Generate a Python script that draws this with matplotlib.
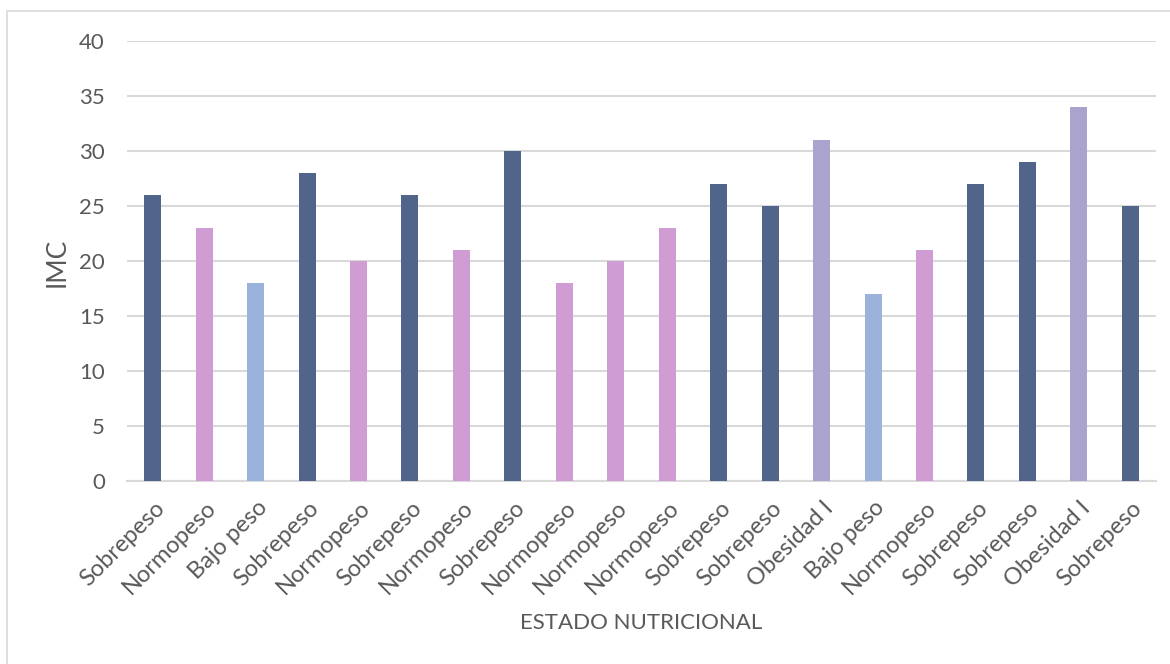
import matplotlib
matplotlib.use("Agg")
import matplotlib.pyplot as plt
from matplotlib.patches import Rectangle
from matplotlib.transforms import ScaledTranslation

# Nutritional status and BMI per participant
categories = ["Sobrepeso", "Normopeso", "Bajo peso", "Sobrepeso", "Normopeso",
              "Sobrepeso", "Normopeso", "Sobrepeso", "Normopeso", "Normopeso",
              "Normopeso", "Sobrepeso", "Sobrepeso", "Obesidad I", "Bajo peso",
              "Normopeso", "Sobrepeso", "Sobrepeso", "Obesidad I", "Sobrepeso"]
imc = [26, 23, 18, 28, 20, 26, 21, 30, 18, 20, 23, 27, 25, 31, 17, 21, 27, 29, 34, 25]

status_colors = {
    "Sobrepeso": "#51658B",
    "Normopeso": "#CF9DD3",
    "Bajo peso": "#9BB3DB",
    "Obesidad I": "#A9A3CE",
}

plt.rcParams["font.family"] = ["Lato", "DejaVu Sans"]
text_color = "#595959"

fig = plt.figure(figsize=(11.7, 6.64), dpi=100)
ax = fig.add_axes([127 / 1170, 1 - 481 / 664, (1156 - 127) / 1170, (481 - 41) / 664])

# light frame around the chart area
fig.patches.append(Rectangle((7 / 1170, -0.05), 1.2, 1 - 11 / 664 + 0.05,
                             transform=fig.transFigure, fill=False,
                             edgecolor="#D9D9D9", linewidth=1.2))

x = list(range(len(imc)))
ax.bar(x, imc, width=0.33, color=[status_colors[c] for c in categories], zorder=3)

ax.set_xlim(-0.5, len(imc) - 0.5)
ax.set_ylim(0, 40)
ax.set_yticks(range(0, 41, 5))
ax.yaxis.grid(True, color="#D9D9D9", linewidth=1.5, zorder=0)
ax.set_axisbelow(True)

for s in ["top", "right", "left"]:
    ax.spines[s].set_visible(False)
ax.spines["bottom"].set_color("#D9D9D9")
ax.spines["bottom"].set_linewidth(1.5)

ax.tick_params(axis="y", length=0, pad=16, labelsize=16, labelcolor=text_color)
ax.tick_params(axis="x", length=0, pad=8, labelsize=17, labelcolor=text_color)
ax.set_xticks(x)
ax.set_xticklabels(categories, rotation=45, ha="right", va="top",
                   rotation_mode="anchor")
for lbl in ax.get_xticklabels():
    lbl.set_transform(lbl.get_transform() + ScaledTranslation(
        1 / 100, -5 / 100, fig.dpi_scale_trans))

fig.text(57 / 1170, 1 - 262 / 664, "IMC", rotation=90, ha="center", va="center",
         fontsize=19, color=text_color)
fig.text(641 / 1170, 1 - 623 / 664, "ESTADO NUTRICIONAL", ha="center", va="center",
         fontsize=16, color=text_color)

fig.savefig("out.png", dpi=100, facecolor="white")
